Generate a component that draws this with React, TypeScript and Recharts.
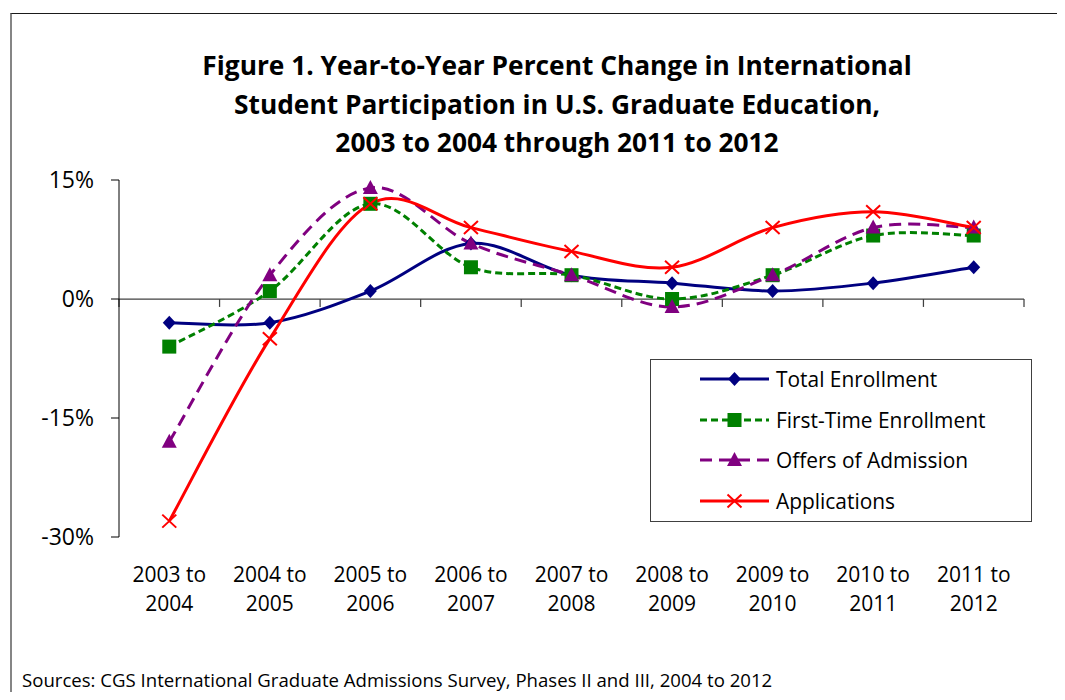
import React from 'react';
import { LineChart, Line, XAxis, YAxis, ReferenceLine } from 'recharts';

// ---- data ----
const periods = [
  '2003 to 2004',
  '2004 to 2005',
  '2005 to 2006',
  '2006 to 2007',
  '2007 to 2008',
  '2008 to 2009',
  '2009 to 2010',
  '2010 to 2011',
  '2011 to 2012',
];
const totalEnrollment = [-3, -3, 1, 7, 3, 2, 1, 2, 4];
const firstTimeEnrollment = [-6, 1, 12, 4, 3, 0, 3, 8, 8];
const offersOfAdmission = [-18, 3, 14, 7, 3, -1, 3, 9, 9];
const applications = [-28, -5, 12, 9, 6, 4, 9, 11, 9];
const yTicks = [-30, -15, 0, 15];

const titleLines = [
  'Figure 1. Year-to-Year Percent Change in International',
  'Student Participation in U.S. Graduate Education,',
  '2003 to 2004 through 2011 to 2012',
];
const sourceNote =
  'Sources: CGS International Graduate Admissions Survey, Phases II and III, 2004 to 2012';

type MarkerShape = 'diamond' | 'square' | 'triangle' | 'x';

const series: {
  key: string;
  name: string;
  values: number[];
  color: string;
  dash?: string;
  marker: MarkerShape;
}[] = [
  { key: 'total', name: 'Total Enrollment', values: totalEnrollment, color: '#000080', marker: 'diamond' },
  { key: 'firstTime', name: 'First-Time Enrollment', values: firstTimeEnrollment, color: '#008000', dash: '7 4', marker: 'square' },
  { key: 'offers', name: 'Offers of Admission', values: offersOfAdmission, color: '#800080', dash: '12 7', marker: 'triangle' },
  { key: 'applications', name: 'Applications', values: applications, color: '#FF0000', marker: 'x' },
];

// one row per period; x sits in the middle of each category slot
const rows = periods.map((p, i) => {
  const row: Record<string, number | string> = { pos: i + 0.5, period: p };
  series.forEach((s) => {
    row[s.key] = s.values[i];
  });
  return row;
});
const xTicks = periods.map((_, i) => i + 0.5);
const slotEdges = Array.from({ length: periods.length + 1 }, (_, i) => i);

const FONT = '"Open Sans", Lato, sans-serif';

// Smoothed line like a spreadsheet's "smoothed line": Catmull-Rom as cubic Beziers
function smoothCurve(context: any) {
  let pts: [number, number][] = [];
  return {
    areaStart() {},
    areaEnd() {},
    lineStart() {
      pts = [];
    },
    point(x: number, y: number) {
      pts.push([+x, +y]);
    },
    lineEnd() {
      const n = pts.length;
      if (!n) return;
      context.moveTo(pts[0][0], pts[0][1]);
      for (let i = 0; i < n - 1; i++) {
        const p0 = pts[Math.max(i - 1, 0)];
        const p1 = pts[i];
        const p2 = pts[i + 1];
        const p3 = pts[Math.min(i + 2, n - 1)];
        context.bezierCurveTo(
          p1[0] + (p2[0] - p0[0]) / 6,
          p1[1] + (p2[1] - p0[1]) / 6,
          p2[0] - (p3[0] - p1[0]) / 6,
          p2[1] - (p3[1] - p1[1]) / 6,
          p2[0],
          p2[1]
        );
      }
    },
  };
}

function Marker({ shape, cx, cy, color }: { shape: MarkerShape; cx: number; cy: number; color: string }) {
  switch (shape) {
    case 'diamond':
      return <path d={`M${cx},${cy - 7}L${cx + 6.5},${cy}L${cx},${cy + 7}L${cx - 6.5},${cy}Z`} fill={color} />;
    case 'square':
      return <rect x={cx - 7} y={cy - 7} width={14} height={14} fill={color} />;
    case 'triangle':
      return <path d={`M${cx},${cy - 8}L${cx + 7.5},${cy + 6}L${cx - 7.5},${cy + 6}Z`} fill={color} />;
    case 'x':
    default:
      return (
        <path
          d={`M${cx - 7},${cy - 6.5}L${cx + 7},${cy + 6.5}M${cx + 7},${cy - 6.5}L${cx - 7},${cy + 6.5}`}
          stroke={color}
          strokeWidth={2}
          fill="none"
        />
      );
  }
}

const PeriodTick = (props: any) => {
  const { x, y, payload } = props;
  const label = periods[Math.floor(payload.value)] || '';
  const [from, to] = label.split(' to ');
  return (
    <text x={x} y={y} textAnchor="middle" fontSize={21} fill="#000" fontFamily={FONT}>
      <tspan x={x} dy={45}>{`${from} to`}</tspan>
      <tspan x={x} dy={29}>{to}</tspan>
    </text>
  );
};

const PercentTick = (props: any) => {
  const { x, y, payload } = props;
  return (
    <text x={x} y={y} dy={8} textAnchor="end" fontSize={23} fill="#000" fontFamily={FONT}>
      {`${payload.value}%`}
    </text>
  );
};

function LegendBox() {
  return (
    <div
      style={{
        position: 'absolute',
        left: 650,
        top: 359,
        width: 382,
        height: 163,
        border: '1.5px solid #404040',
        boxSizing: 'border-box',
        background: '#fff',
      }}
    >
      {series.map((s, i) => (
        <div
          key={s.key}
          style={{
            position: 'absolute',
            left: 48,
            top: 19 + i * 40.7 - 14,
            height: 28,
            display: 'flex',
            alignItems: 'center',
          }}
        >
          <svg width={71} height={28} style={{ display: 'block' }}>
            <line x1={1} y1={14} x2={70} y2={14} stroke={s.color} strokeWidth={3} strokeDasharray={s.dash} />
            <Marker shape={s.marker} cx={35.5} cy={14} color={s.color} />
          </svg>
          <span style={{ marginLeft: 6, fontSize: 20.9, lineHeight: '28px', color: '#000', fontFamily: FONT, whiteSpace: 'nowrap' }}>
            {s.name}
          </span>
        </div>
      ))}
    </div>
  );
}

export default function App() {
  return (
    <div
      style={{
        position: 'relative',
        width: 1065,
        height: 700,
        margin: -8,
        background: '#fff',
        overflow: 'hidden',
        fontFamily: FONT,
      }}
    >
      {/* chart frame */}
      <div
        style={{
          position: 'absolute',
          left: 10,
          top: 13,
          width: 1200,
          height: 900,
          borderTop: '1.5px solid #1a1a1a',
          borderLeft: '2px solid #858585',
        }}
      />

      <svg width={1065} height={700} style={{ position: 'absolute', left: 0, top: 0 }}>
        {titleLines.map((t, i) => (
          <text
            key={i}
            x={557}
            y={75 + i * 38.5}
            textAnchor="middle"
            fontSize={26.3}
            fontWeight={700}
            fill="#000"
            fontFamily={FONT}
          >
            {t}
          </text>
        ))}
        <text x={22} y={687} fontSize={18.6} fill="#000" fontFamily={FONT}>
          {sourceNote}
        </text>
      </svg>

      <div style={{ position: 'absolute', left: 0, top: 0 }}>
        <LineChart width={1065} height={700} data={rows} margin={{ top: 180, right: 41, bottom: 103, left: 39 }}>
          <XAxis
            dataKey="pos"
            type="number"
            domain={[0, periods.length]}
            ticks={xTicks}
            interval={0}
            axisLine={false}
            tickLine={false}
            tickSize={0}
            tickMargin={0}
            height={60}
            tick={<PeriodTick />}
          />
          <YAxis
            type="number"
            domain={[-30, 15]}
            ticks={yTicks}
            interval={0}
            width={80}
            axisLine={{ stroke: '#000', strokeWidth: 1 }}
            tickLine={{ stroke: '#000', strokeWidth: 1 }}
            tickSize={8}
            tickMargin={17}
            tick={<PercentTick />}
          />
          <ReferenceLine y={0} stroke="#404040" strokeWidth={1.25} />
          {slotEdges.map((e) => (
            <ReferenceLine
              key={`edge-${e}`}
              segment={[
                { x: e, y: 0 },
                { x: e, y: -1 },
              ]}
              stroke="#404040"
              strokeWidth={1.25}
            />
          ))}
          {series.map((s) => (
            <Line
              key={s.key}
              dataKey={s.key}
              name={s.name}
              type={smoothCurve as any}
              stroke={s.color}
              strokeWidth={3}
              strokeDasharray={s.dash}
              isAnimationActive={false}
              activeDot={false}
              dot={(p: any) => (
                <Marker key={`${s.key}-${p.index}`} shape={s.marker} cx={p.cx} cy={p.cy} color={s.color} />
              )}
            />
          ))}
        </LineChart>
      </div>

      <LegendBox />
    </div>
  );
}
